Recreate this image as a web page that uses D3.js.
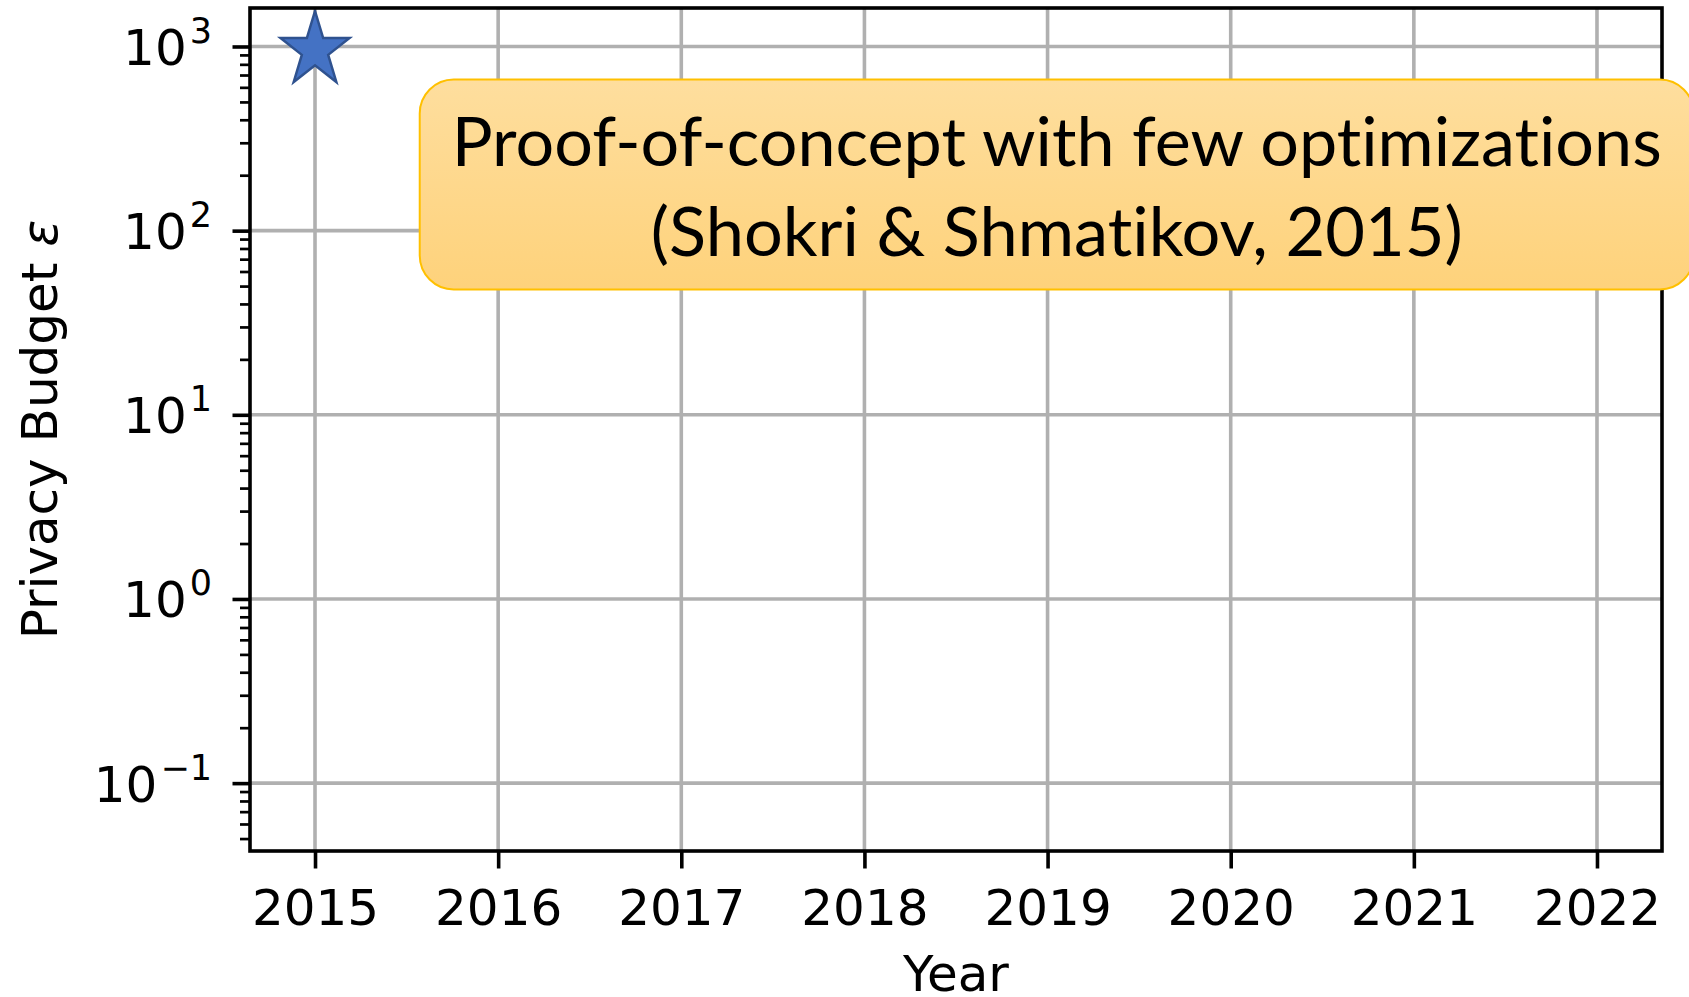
<!DOCTYPE html>
<html>
<head>
<meta charset="utf-8">
<script src="https://cdn.jsdelivr.net/npm/d3@7"></script>
<style>
  body { margin: 0; background: #fff; }
  svg { display: block; }
  .tick text { font-family: "DejaVu Sans", sans-serif; }
  .red { font-variant-ligatures: none; font-feature-settings: "liga" 0, "clig" 0; }
</style>
</head>
<body>
<div id="okvir"></div>
<script>
// podaci
const godine = [2015, 2016, 2017, 2018, 2019, 2020, 2021, 2022]
const dekade = [-1, 0, 1, 2, 3]
const tocke = [
  { godina: 2015, epsilon: 1000 }
]
const biljeska = ["Proof-of-concept with few optimizations", "(Shokri & Shmatikov, 2015)"]
const biljeskaSidro = { godina: 2019.05, epsilon: 178 }

const xOsNaslov = "Year"
const yOsNaslov = "Privacy Budget "

function crtaj() {
  const dim = {
    sirina: 1689,
    visina: 997,
    margine: { top: 8, right: 27, bottom: 146, left: 250 },
  }
  const lijevo = dim.margine.left
  const desno = dim.sirina - dim.margine.right
  const gore = dim.margine.top
  const dolje = dim.visina - dim.margine.bottom

  const svg = d3.select("#okvir").append("svg")
    .attr("width", dim.sirina)
    .attr("height", dim.visina)

  const x = d3.scaleLinear()
    .domain([2014.645, 2022.355])
    .range([lijevo, desno])

  const y = d3.scaleLog()
    .domain([0.0428, 1618])
    .range([dolje, gore])

  const glavni = dekade.map(e => Math.pow(10, e))
  const sporedni = []
  dekade.concat([-2]).forEach(e => {
    for (let k = 2; k <= 9; k++) {
      const v = k * Math.pow(10, e)
      if (v >= y.domain()[0] && v <= y.domain()[1]) sporedni.push(v)
    }
  })

  // mreza
  const mreza = svg.append("g").attr("class", "mreza")
  mreza.selectAll(".vx").data(godine).enter().append("line")
    .attr("x1", d => x(d)).attr("x2", d => x(d))
    .attr("y1", gore).attr("y2", dolje)
    .attr("stroke", "#b0b0b0").attr("stroke-width", 3.6)
  mreza.selectAll(".hy").data(glavni).enter().append("line")
    .attr("x1", lijevo).attr("x2", desno)
    .attr("y1", d => y(d)).attr("y2", d => y(d))
    .attr("stroke", "#b0b0b0").attr("stroke-width", 3.6)

  // zvijezda
  function zvijezda(w, h) {
    const R = 1, r = 0.381966
    const pts = []
    for (let i = 0; i < 10; i++) {
      const a = -Math.PI / 2 + i * Math.PI / 5
      const rr = i % 2 === 0 ? R : r
      pts.push([rr * Math.cos(a), rr * Math.sin(a)])
    }
    const x0 = d3.min(pts, p => p[0]), x1 = d3.max(pts, p => p[0])
    const y0 = d3.min(pts, p => p[1]), y1 = d3.max(pts, p => p[1])
    const sx = w / (x1 - x0), sy = h / (y1 - y0)
    const cx = (x0 + x1) / 2, cy = (y0 + y1) / 2
    return d3.line()(pts.map(p => [(p[0] - cx) * sx, (p[1] - cy) * sy])) + "Z"
  }

  svg.append("g").selectAll("path")
    .data(tocke).enter().append("path")
    .attr("d", zvijezda(69, 71))
    .attr("transform", d => `translate(${x(d.godina)},${y(d.epsilon)})`)
    .attr("fill", "#4472C4")
    .attr("stroke", "#2F528F")
    .attr("stroke-width", 2.5)

  // osi
  const xOs = svg.append("g")
    .attr("transform", `translate(0,${dolje})`)
    .call(d3.axisBottom(x).tickValues(godine).tickFormat(d3.format("d")).tickSize(17.5).tickPadding(17))
  xOs.select(".domain").remove()
  xOs.selectAll(".tick line").attr("stroke", "#000").attr("stroke-width", 3.6)
  xOs.selectAll(".tick text").attr("font-size", 50).attr("fill", "#000")
    .attr("dy", null).attr("y", 74)

  const yOs = svg.append("g")
    .attr("transform", `translate(${lijevo},0)`)
    .call(d3.axisLeft(y).tickValues(glavni).tickFormat("").tickSize(17.5))
  yOs.select(".domain").remove()
  yOs.selectAll(".tick line").attr("stroke", "#000").attr("stroke-width", 3.6)

  const yMinor = svg.append("g")
    .attr("transform", `translate(${lijevo},0)`)
    .call(d3.axisLeft(y).tickValues(sporedni).tickFormat("").tickSize(10))
  yMinor.select(".domain").remove()
  yMinor.selectAll(".tick line").attr("stroke", "#000").attr("stroke-width", 2.7)

  const oznake = svg.append("g")
  dekade.forEach(e => {
    const t = oznake.append("text")
      .attr("x", lijevo - 38)
      .attr("y", y(Math.pow(10, e)) + 18.5)
      .attr("text-anchor", "end")
      .attr("font-family", "DejaVu Sans, sans-serif")
      .attr("font-size", 50)
      .attr("fill", "#000")
    t.append("tspan").text("10")
    t.append("tspan")
      .attr("font-size", 35)
      .attr("dy", -22)
      .attr("dx", 3)
      .text(e < 0 ? "\u2212" + Math.abs(e) : String(e))
  })

  // okvir osi
  svg.append("rect")
    .attr("x", lijevo).attr("y", gore)
    .attr("width", desno - lijevo).attr("height", dolje - gore)
    .attr("fill", "none").attr("stroke", "#000").attr("stroke-width", 3.6)

  // naslovi osi
  svg.append("text")
    .attr("x", (lijevo + desno) / 2)
    .attr("y", 991)
    .attr("text-anchor", "middle")
    .attr("font-family", "DejaVu Sans, sans-serif")
    .attr("font-size", 50)
    .text(xOsNaslov)

  const yNaslov = svg.append("text")
    .attr("transform", `translate(57,${(gore + dolje) / 2}) rotate(-90)`)
    .attr("text-anchor", "middle")
    .attr("font-family", "DejaVu Sans, sans-serif")
    .attr("font-size", 50)
  yNaslov.append("tspan").text(yOsNaslov)
  yNaslov.append("tspan").attr("font-style", "italic").text("\u03b5")

  // biljeska
  const defs = svg.append("defs")
  const grad = defs.append("linearGradient")
    .attr("id", "zuto").attr("x1", 0).attr("y1", 0).attr("x2", 0).attr("y2", 1)
  grad.append("stop").attr("offset", "0%").attr("stop-color", "#FEDE9E")
  grad.append("stop").attr("offset", "100%").attr("stop-color", "#FED27B")

  const bx = x(biljeskaSidro.godina)
  const by = y(biljeskaSidro.epsilon)
  const bw = 1274, bh = 210
  const kutija = svg.append("g").attr("transform", `translate(${bx},${by})`)
  kutija.append("rect")
    .attr("x", -bw / 2).attr("y", -bh / 2)
    .attr("width", bw).attr("height", bh)
    .attr("rx", 34).attr("ry", 34)
    .attr("fill", "url(#zuto)")
    .attr("stroke", "#FFC000")
    .attr("stroke-width", 2)

  const sirine = [1210, 812]
  kutija.selectAll("text.red")
    .data(biljeska).enter().append("text")
    .attr("class", "red")
    .attr("x", 0)
    .attr("y", (d, i) => -19 + i * 90)
    .attr("text-anchor", "middle")
    .attr("font-family", "Lato, sans-serif")
    .attr("font-size", 67)
    .attr("fill", "#000")
    .attr("textLength", (d, i) => sirine[i])
    .attr("lengthAdjust", "spacingAndGlyphs")
    .text(d => d)
}
crtaj()
</script>
</body>
</html>
